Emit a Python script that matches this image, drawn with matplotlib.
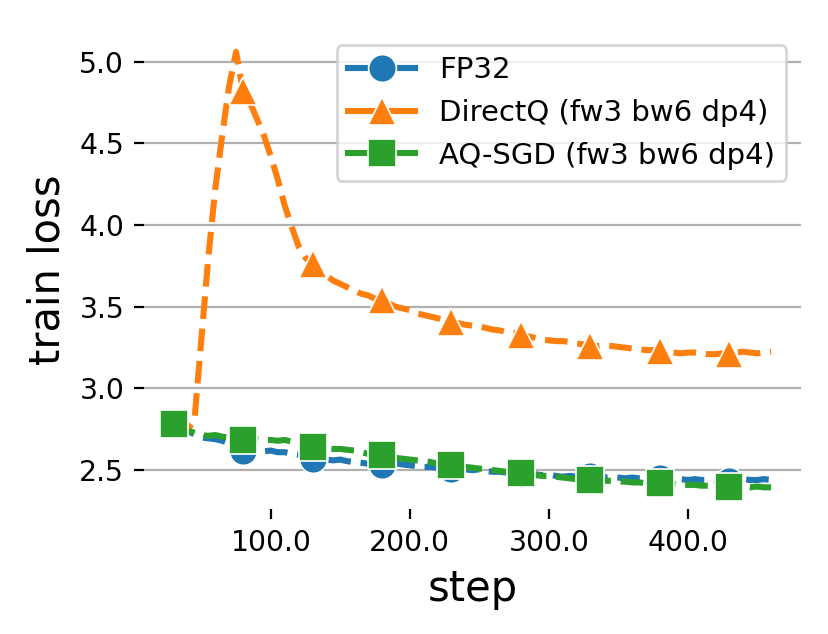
import matplotlib
matplotlib.use("Agg")
import matplotlib.pyplot as plt
import numpy as np

# training steps (every 5 steps), markers every 50 steps
steps = np.arange(30, 461, 5)

fp32 = [2.78, 2.76, 2.74, 2.72, 2.70, 2.695, 2.69, 2.68, 2.665, 2.64,
        2.62, 2.625, 2.62, 2.615, 2.62, 2.61, 2.61, 2.60, 2.595, 2.585,
        2.57, 2.575, 2.565, 2.56, 2.565, 2.555, 2.55, 2.545, 2.54, 2.535,
        2.53, 2.545, 2.54, 2.535, 2.53, 2.525, 2.52, 2.52, 2.515, 2.51,
        2.505, 2.51, 2.505, 2.50, 2.505, 2.495, 2.49, 2.49, 2.485, 2.48,
        2.475, 2.48, 2.475, 2.47, 2.475, 2.465, 2.46, 2.465, 2.46, 2.465,
        2.465, 2.46, 2.455, 2.46, 2.455, 2.45, 2.455, 2.45, 2.45, 2.445,
        2.45, 2.445, 2.44, 2.445, 2.44, 2.445, 2.44, 2.44, 2.435, 2.44,
        2.435, 2.44, 2.445, 2.44, 2.44, 2.445, 2.44]

directq = [2.80, 2.77, 2.75, 2.80, 3.30, 3.80, 4.22, 4.55, 4.85, 5.06,
           4.82, 4.75, 4.65, 4.55, 4.42, 4.28, 4.12, 3.99, 3.87, 3.80,
           3.76, 3.72, 3.69, 3.66, 3.64, 3.62, 3.60, 3.58, 3.57, 3.55,
           3.54, 3.52, 3.50, 3.49, 3.48, 3.46, 3.45, 3.44, 3.43, 3.42,
           3.41, 3.40, 3.39, 3.385, 3.38, 3.37, 3.36, 3.355, 3.345, 3.34,
           3.33, 3.32, 3.31, 3.30, 3.295, 3.29, 3.29, 3.285, 3.275, 3.27,
           3.26, 3.26, 3.265, 3.26, 3.255, 3.25, 3.245, 3.24, 3.235, 3.235,
           3.23, 3.225, 3.22, 3.215, 3.22, 3.22, 3.215, 3.21, 3.21, 3.215,
           3.21, 3.22, 3.225, 3.22, 3.215, 3.22, 3.225]

aqsgd = [2.78, 2.76, 2.74, 2.73, 2.715, 2.71, 2.715, 2.705, 2.70, 2.69,
         2.685, 2.685, 2.69, 2.685, 2.685, 2.68, 2.685, 2.675, 2.67, 2.66,
         2.64, 2.64, 2.635, 2.63, 2.63, 2.625, 2.62, 2.61, 2.60, 2.595,
         2.59, 2.58, 2.575, 2.57, 2.565, 2.56, 2.555, 2.55, 2.54, 2.535,
         2.53, 2.525, 2.52, 2.515, 2.51, 2.505, 2.50, 2.495, 2.49, 2.485,
         2.48, 2.475, 2.47, 2.465, 2.465, 2.46, 2.455, 2.45, 2.445, 2.445,
         2.44, 2.44, 2.435, 2.435, 2.43, 2.43, 2.425, 2.425, 2.42, 2.42,
         2.42, 2.415, 2.415, 2.41, 2.41, 2.41, 2.405, 2.405, 2.40, 2.40,
         2.395, 2.40, 2.40, 2.395, 2.40, 2.395, 2.395]

labels = ["FP32", "DirectQ (fw3 bw6 dp4)", "AQ-SGD (fw3 bw6 dp4)"]
colors = ["#1f77b4", "#ff7f0e", "#2ca02c"]
markers = ["o", "^", "s"]

fig = plt.figure(figsize=(4.145, 3.17), dpi=200)
ax = fig.add_axes([0.1733, 0.197, 0.7929, 0.7554])

for y, lab, c, m in zip([fp32, directq, aqsgd], labels, colors, markers):
    ax.plot(steps, y, ls="--", lw=2.2, color=c, marker=m, markersize=10,
            markevery=10, markeredgecolor="white", markeredgewidth=0.6,
            label=lab)

ax.grid(axis="y", color="#b0b0b0", lw=0.8)
ax.set_axisbelow(True)
for s in ax.spines.values():
    s.set_visible(False)

ax.xaxis.set_major_formatter(plt.FuncFormatter(lambda v, p: f"{v:.1f}"))
ax.tick_params(labelsize=10.2)
ax.set_xlabel("step", fontsize=15)
ax.set_ylabel("train loss", fontsize=15)

leg = ax.legend(loc="upper right", fontsize=10.5, handlelength=2.3)
# legend handles look like "-marker-" in the original
for ln in leg.get_lines():
    ln.set_linestyle("-")

fig.savefig("out.png", dpi=200)
